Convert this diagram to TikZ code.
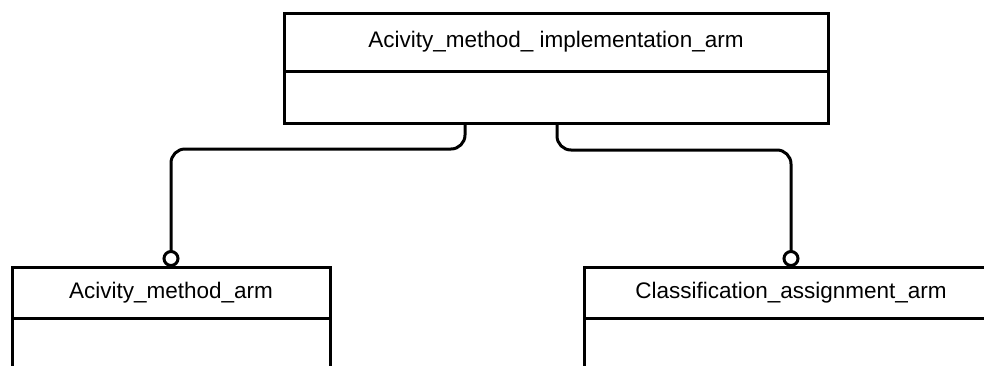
\documentclass[tikz,border=0pt]{standalone}
\usepackage{fontspec}
\setmainfont{Liberation Sans}
\usetikzlibrary{positioning, arrows.meta}

\begin{document}
\begin{tikzpicture}[
          x=1pt, y=-1pt,
          entity/.style = {draw, line width=3pt, outer sep=0pt, inner sep=0pt, font=\fontsize{22.5}{27}\selectfont},
          link/.style = {line width=3pt, rounded corners=14pt, -{Circle[open, length=17pt, width=17pt]}}
         ]
        \useasboundingbox (0,0) rectangle (984,365);
        \clip (0,0) rectangle (984,365);

        % Oberes Objekt
        \node[entity, minimum width=544pt, minimum height=58pt] (ami) at (556,42) {Acivity\_method\_ implementation\_arm};
        \node[entity, minimum width=544pt, minimum height=52pt, below=0pt of ami] (amiBody) {};

        % Links unten
        \node[entity, minimum width=318pt, minimum height=51pt] (am) at (171,292.5) {Acivity\_method\_arm};
        \node[entity, minimum width=318pt, minimum height=80pt, below=0pt of am] (amBody) {};

        % Rechts unten
        \node[entity, minimum width=414pt, minimum height=51pt] (ca) at (791,292.5) {Classification\_assignment\_arm};
        \node[entity, minimum width=414pt, minimum height=80pt, below=0pt of ca] (caBody) {};

        % Verbindungen
        \draw[link] ([xshift=-91pt]amiBody.south) -- ++(0,26) -| (am.north);
        \draw[link] ([xshift=1pt]amiBody.south) -- ++(0,27) -| (ca.north);

\end{tikzpicture}
\end{document}
